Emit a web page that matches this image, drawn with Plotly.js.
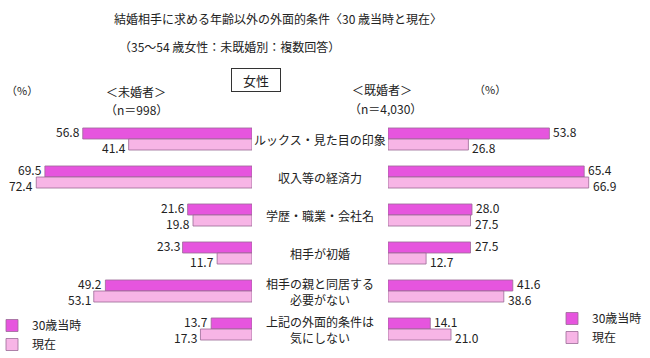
<!DOCTYPE html>
<html>
<head>
<meta charset="utf-8">
<script src="https://cdn.plot.ly/plotly-3.0.1.min.js"></script>
<style>html,body{margin:0;padding:0;background:#fff;}#chart{width:650px;height:358px;}</style>
</head>
<body>
<div id="chart"></div>
<script>
// Data
var categories = ["ルックス・見た目の印象", "収入等の経済力", "学歴・職業・会社名", "相手が初婚", "相手の親と同居する<br>必要がない", "上記の外面的条件は<br>気にしない"];
var seriesNames = ["30歳当時", "現在"];
var unmarriedAt30 = [56.8, 69.5, 21.6, 23.3, 49.2, 13.7];
var unmarriedNow  = [41.4, 72.4, 19.8, 11.7, 53.1, 17.3];
var marriedAt30   = [53.8, 65.4, 28.0, 27.5, 41.6, 14.1];
var marriedNow    = [26.8, 66.9, 27.5, 12.7, 38.6, 21.0];

var FONT = "'Noto Sans CJK JP', 'Noto Sans', sans-serif";
var C1 = "#E655DE", C2 = "#F7B5E6";
var H = 358, W = 650;
function py(p){ return (H - p) / H; }
function px(p){ return p / W; }

function bar(x, name, color, xa, legend) {
  return {
    type: "bar", orientation: "h", x: x, y: categories, name: name,
    xaxis: xa, yaxis: "y", legend: legend, showlegend: true,
    marker: {color: color, line: {color: "#9a6a96", width: 0.8}},
    hoverinfo: "x+name"
  };
}

var data = [
  bar(unmarriedAt30, seriesNames[0], C1, "x", "legend"),
  bar(unmarriedNow, seriesNames[1], C2, "x", "legend"),
  bar(marriedAt30, seriesNames[0], C1, "x2", "legend2"),
  bar(marriedNow, seriesNames[1], C2, "x2", "legend2")
];

var annotations = [];
// value labels, placed from the data through the axes
function valueLabels(vals, xref, upper) {
  vals.forEach(function(v, i){
    var left = (xref === "x");
    annotations.push({xref: xref, yref: "y", x: v, y: categories[i], text: v.toFixed(1),
      showarrow: false, xanchor: left ? "right" : "left", yanchor: "middle",
      xshift: left ? -1 : 2, yshift: upper ? 8 : -8,
      font: {family: FONT, size: 12, color: "#222"}});
  });
}
valueLabels(unmarriedAt30, "x", true);
valueLabels(unmarriedNow, "x", false);
valueLabels(marriedAt30, "x2", true);
valueLabels(marriedNow, "x2", false);

categories.forEach(function(c){
  annotations.push({xref: "paper", yref: "y", x: px(320), y: c, text: c, showarrow: false,
    align: "center", xanchor: "center", yanchor: "middle",
    font: {family: FONT, size: 12, color: "#222"}});
});
function ann(x, y, t, opts) {
  var a = {xref: "paper", yref: "paper", x: px(x), y: py(y), text: t, showarrow: false,
    xanchor: "center", yanchor: "middle", font: {family: FONT, size: 12, color: "#222"}};
  for (var k in opts) a[k] = opts[k];
  annotations.push(a);
}
ann(117, 46, "（35～54 歳女性：未既婚別：複数回答）", {xanchor: "left"});
ann(256, 80, "女性", {bordercolor: "#333", borderwidth: 1, borderpad: 1, width: 46, height: 20, font: {family: FONT, size: 13, color: "#222"}});
ann(22, 90, "（%）", {font: {family: FONT, size: 11, color: "#222"}});
ann(136, 92, "＜未婚者＞");
ann(136, 110, "（n＝998）");
ann(382, 89, "＜既婚者＞");
ann(385, 108, "（n＝4,030）");
ann(490, 89, "（%）", {font: {family: FONT, size: 11, color: "#222"}});

var axBase = {showgrid: false, zeroline: false, showline: false, showticklabels: false, ticks: "", fixedrange: true};
var layout = {
  width: W, height: H,
  margin: {l: 0, r: 0, t: 0, b: 0, autoexpand: false},
  paper_bgcolor: "#fff", plot_bgcolor: "rgba(0,0,0,0)",
  font: {family: FONT, size: 12, color: "#222"},
  title: {text: "結婚相手に求める年齢以外の外面的条件〈30 歳当時と現在〉", x: px(114), xanchor: "left",
    y: py(20), yanchor: "middle", xref: "paper", yref: "paper",
    font: {family: FONT, size: 12, color: "#222"}},
  barmode: "group", bargap: 0.42, bargroupgap: 0,
  xaxis: Object.assign({}, axBase, {domain: [px(252 - 75 * 2.98), px(252)], range: [75, 0], anchor: "y"}),
  xaxis2: Object.assign({}, axBase, {domain: [px(388), px(388 + 75 * 3.0)], range: [0, 75], anchor: "y"}),
  yaxis: Object.assign({}, axBase, {type: "category", domain: [py(348), py(120)], range: [5.5, -0.5]}),
  legend: {x: px(-8), y: py(311), xanchor: "left", yanchor: "top", bgcolor: "rgba(0,0,0,0)",
    font: {family: FONT, size: 12, color: "#222"}, tracegroupgap: 0, itemwidth: 30, traceorder: "normal"},
  legend2: {x: px(552), y: py(304), xanchor: "left", yanchor: "top", bgcolor: "rgba(0,0,0,0)",
    font: {family: FONT, size: 12, color: "#222"}, tracegroupgap: 0, itemwidth: 30, traceorder: "normal"},
  annotations: annotations,
  showlegend: true
};

Plotly.newPlot("chart", data, layout, {displayModeBar: false, staticPlot: true});
</script>
</body>
</html>
